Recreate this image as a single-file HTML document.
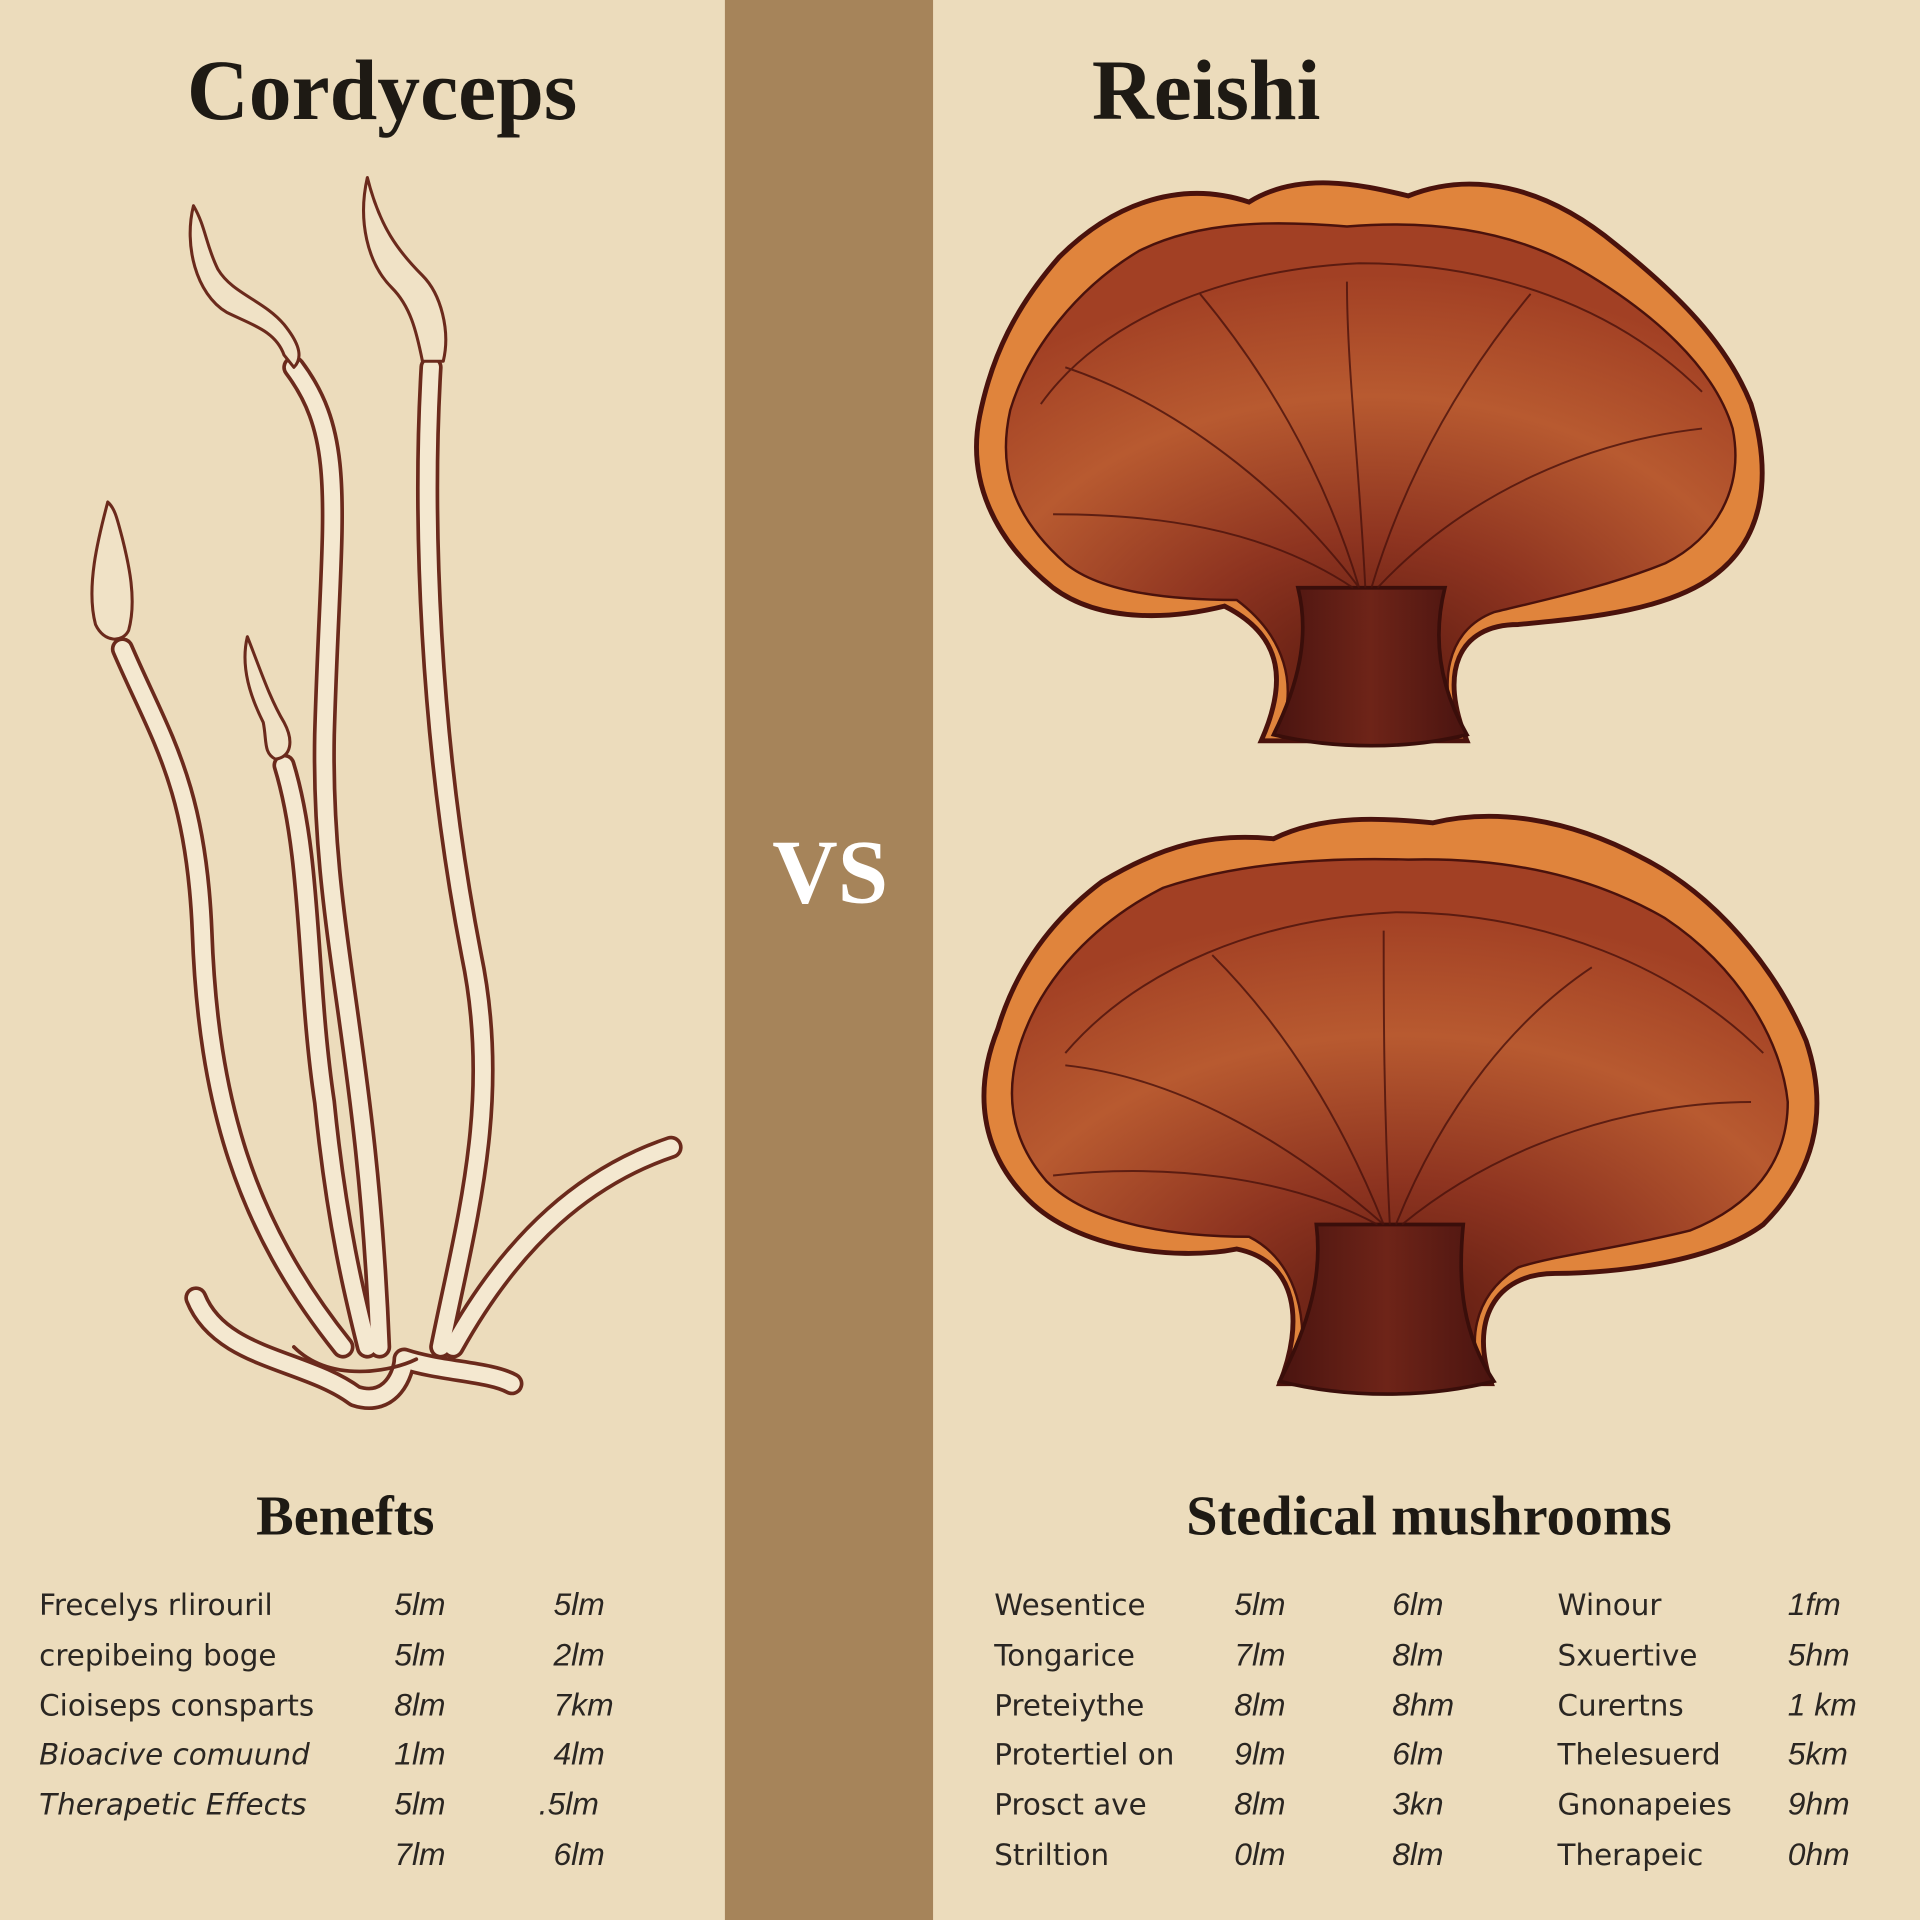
<!DOCTYPE html>
<html><head><meta charset="utf-8"><style>
html,body{margin:0;padding:0;background:#ecdcbc;}
svg{display:block}
.t{font-family:"Liberation Serif",serif;font-weight:bold;fill:#1e1a14}
.r{font-family:"DejaVu Sans","Liberation Sans",sans-serif;font-size:24px;fill:#2a2622}
.n{font-family:"Liberation Sans",sans-serif;font-style:italic;font-size:26px;fill:#2a2622}
</style></head><body>
<svg width="1920" height="1920" viewBox="0 0 1568 1568" xmlns="http://www.w3.org/2000/svg">
<defs>
<radialGradient id="cap" cx="0.5" cy="0.9" r="0.8">
<stop offset="0" stop-color="#5a1a10"/><stop offset="0.35" stop-color="#8e3420"/><stop offset="0.7" stop-color="#b85a30"/><stop offset="1" stop-color="#a24024"/>
</radialGradient>
<linearGradient id="stem" x1="0" y1="0" x2="1" y2="0">
<stop offset="0" stop-color="#4a1410"/><stop offset="0.5" stop-color="#6e2418"/><stop offset="1" stop-color="#4a1410"/>
</linearGradient>
</defs>
<rect width="1568" height="1568" fill="#ecdcbc"/>
<rect x="592" y="0" width="170" height="1568" fill="#a6845a"/>

<text class="t" x="312" y="97" font-size="70" text-anchor="middle">Cordyceps</text>
<text class="t" x="985" y="97" font-size="70" text-anchor="middle">Reishi</text>
<text class="t" x="678" y="737" font-size="74" text-anchor="middle" fill="#fff" style="fill:#fff">VS</text>
<text class="t" x="282" y="1253" font-size="46" text-anchor="middle">Benefts</text>
<text class="t" x="1167" y="1253" font-size="46" text-anchor="middle">Stedical mushrooms</text>

<!-- Cordyceps -->
<g fill="none" stroke-linecap="round" stroke-linejoin="round">
<g stroke="#6b2a1c" stroke-width="19">
<path d="M240 300 C285 360 270 420 265 600 C262 760 300 850 310 1100"/>
<path d="M352 300 C345 420 350 600 385 780 C410 900 380 1000 360 1100"/>
<path d="M100 530 C130 600 160 640 165 760 C170 900 200 1000 280 1100"/>
<path d="M232 625 C255 700 250 800 265 900 C275 1000 290 1060 300 1100"/>
<path d="M548 937 C480 960 420 1010 370 1100"/>
<path d="M160 1060 C180 1110 250 1110 290 1140 C320 1150 330 1120 330 1110 C360 1120 400 1120 418 1130"/>
</g>
<g stroke="#f4e8d0" stroke-width="13">
<path d="M240 300 C285 360 270 420 265 600 C262 760 300 850 310 1100"/>
<path d="M352 300 C345 420 350 600 385 780 C410 900 380 1000 360 1100"/>
<path d="M100 530 C130 600 160 640 165 760 C170 900 200 1000 280 1100"/>
<path d="M232 625 C255 700 250 800 265 900 C275 1000 290 1060 300 1100"/>
<path d="M548 937 C480 960 420 1010 370 1100"/>
<path d="M160 1060 C180 1110 250 1110 290 1140 C320 1150 330 1120 330 1110 C360 1120 400 1120 418 1130"/>
</g>
<g fill="#f0e2c6" stroke="#6b2a1c" stroke-width="2.5">
<path d="M158 168 C150 200 160 240 185 255 C205 265 225 270 232 290 L240 300 C250 290 240 275 232 265 C215 245 190 240 178 220 C168 200 168 185 158 168 Z"/>
<path d="M300 145 C292 180 300 215 320 235 C335 250 340 270 345 295 L362 295 C368 270 360 240 345 225 C325 205 310 185 300 145 Z"/>
<path d="M88 410 C80 440 70 480 78 510 C85 525 100 525 105 515 C112 490 105 460 100 440 C96 425 94 415 88 410 Z"/>
<path d="M202 520 C196 545 205 570 215 590 C218 605 215 615 225 620 C238 618 240 605 232 590 C220 570 212 545 202 520 Z"/>
</g>
<path d="M240 1100 C270 1130 320 1120 340 1110" stroke="#6b2a1c" stroke-width="3"/>
</g>

<!-- Reishi top -->
<g>
<path d="M1030 605 C1050 560 1050 520 1000 495 C960 505 900 510 860 480 C810 440 790 390 800 340 C810 290 830 250 865 210 C905 170 960 145 1020 165 C1060 140 1110 150 1150 160 C1200 140 1260 150 1320 200 C1370 240 1410 280 1430 330 C1448 390 1440 440 1400 470 C1360 500 1290 505 1240 510 C1190 510 1175 550 1198 605 Z" fill="#e0843c" stroke="#4a120c" stroke-width="4"/>
<path d="M1045 598 C1060 560 1050 520 1010 490 C960 490 900 485 870 460 C825 420 815 380 825 335 C840 285 880 235 930 205 C980 180 1040 180 1100 185 C1160 180 1230 185 1290 220 C1350 255 1400 300 1415 350 C1425 400 1400 440 1360 460 C1310 480 1260 490 1220 500 C1180 515 1175 560 1190 598 Z" fill="url(#cap)" stroke="#4a120c" stroke-width="2"/>
<path d="M1040 600 C1060 560 1070 520 1060 480 L1180 480 C1170 520 1175 560 1198 600 C1150 612 1090 612 1040 600 Z" fill="url(#stem)" stroke="#3a0e0a" stroke-width="3"/>
<g stroke="#4a120c" stroke-width="1.6" fill="none" opacity="0.8">
<path d="M1110 480 C1050 400 960 330 870 300"/><path d="M1110 480 C1080 380 1030 300 980 240"/>
<path d="M1115 480 C1110 380 1100 300 1100 230"/><path d="M1120 480 C1150 380 1200 300 1250 240"/>
<path d="M1125 480 C1200 400 1300 360 1390 350"/><path d="M1105 480 C1030 430 940 420 860 420"/>
<path d="M850 330 C900 260 1000 220 1110 215 C1220 215 1320 250 1390 320"/>
</g>
</g>

<!-- Reishi bottom -->
<g>
<path d="M1045 1130 C1065 1080 1060 1030 1010 1020 C960 1030 880 1020 840 980 C800 940 795 890 815 840 C830 790 860 750 900 720 C950 690 990 680 1040 685 C1080 665 1130 668 1170 672 C1220 660 1280 668 1340 700 C1400 730 1450 790 1475 850 C1495 910 1480 960 1440 1000 C1400 1030 1320 1040 1270 1040 C1220 1040 1200 1080 1218 1130 Z" fill="#e0843c" stroke="#4a120c" stroke-width="4"/>
<path d="M1060 1125 C1070 1080 1060 1030 1020 1010 C960 1010 890 1000 855 965 C820 925 820 880 840 835 C860 790 900 750 950 725 C1010 705 1080 700 1150 702 C1230 700 1300 715 1360 750 C1420 790 1455 850 1460 900 C1460 950 1430 985 1380 1005 C1320 1020 1270 1025 1240 1035 C1200 1060 1200 1100 1210 1125 Z" fill="url(#cap)" stroke="#4a120c" stroke-width="2"/>
<path d="M1045 1128 C1070 1080 1080 1040 1075 1000 L1195 1000 C1190 1050 1195 1090 1220 1128 C1165 1142 1100 1142 1045 1128 Z" fill="url(#stem)" stroke="#3a0e0a" stroke-width="3"/>
<g stroke="#4a120c" stroke-width="1.6" fill="none" opacity="0.8">
<path d="M1130 1000 C1050 930 960 880 870 870"/><path d="M1130 1000 C1090 900 1040 830 990 780"/>
<path d="M1135 1000 C1130 900 1130 830 1130 760"/><path d="M1140 1000 C1180 900 1240 830 1300 790"/>
<path d="M1145 1000 C1230 930 1340 900 1430 900"/><path d="M1125 1000 C1050 960 950 950 860 960"/>
<path d="M870 860 C930 790 1030 750 1140 745 C1260 745 1370 790 1440 860"/>
</g>
</g>

<!-- Left table -->
<g class="r">
<text x="32" y="1319">Frecelys rlirouril</text>
<text x="32" y="1360">crepibeing boge</text>
<text x="32" y="1401">Cioiseps consparts</text>
<text x="32" y="1441" font-style="italic">Bioacive comuund</text>
<text x="32" y="1482" font-style="italic">Therapetic Effects</text>
</g>
<g class="n">
<text x="322" y="1319">5lm</text><text x="452" y="1319">5lm</text>
<text x="322" y="1360">5lm</text><text x="452" y="1360">2lm</text>
<text x="322" y="1401">8lm</text><text x="452" y="1401">7km</text>
<text x="322" y="1441">1lm</text><text x="452" y="1441">4lm</text>
<text x="322" y="1482">5lm</text><text x="440" y="1482">.5lm</text>
<text x="322" y="1523">7lm</text><text x="452" y="1523">6lm</text>
</g>

<!-- Right table -->
<g class="r">
<text x="812" y="1319">Wesentice</text><text x="1272" y="1319">Winour</text>
<text x="812" y="1360">Tongarice</text><text x="1272" y="1360">Sxuertive</text>
<text x="812" y="1401">Preteiythe</text><text x="1272" y="1401">Curertns</text>
<text x="812" y="1441">Protertiel on</text><text x="1272" y="1441">Thelesuerd</text>
<text x="812" y="1482">Prosct ave</text><text x="1272" y="1482">Gnonapeies</text>
<text x="812" y="1523">Striltion</text><text x="1272" y="1523">Therapeic</text>
</g>
<g class="n">
<text x="1008" y="1319">5lm</text><text x="1137" y="1319">6lm</text><text x="1460" y="1319">1fm</text>
<text x="1008" y="1360">7lm</text><text x="1137" y="1360">8lm</text><text x="1460" y="1360">5hm</text>
<text x="1008" y="1401">8lm</text><text x="1137" y="1401">8hm</text><text x="1460" y="1401">1 km</text>
<text x="1008" y="1441">9lm</text><text x="1137" y="1441">6lm</text><text x="1460" y="1441">5km</text>
<text x="1008" y="1482">8lm</text><text x="1137" y="1482">3kn</text><text x="1460" y="1482">9hm</text>
<text x="1008" y="1523">0lm</text><text x="1137" y="1523">8lm</text><text x="1460" y="1523">0hm</text>
</g>
</svg>
</body></html>
